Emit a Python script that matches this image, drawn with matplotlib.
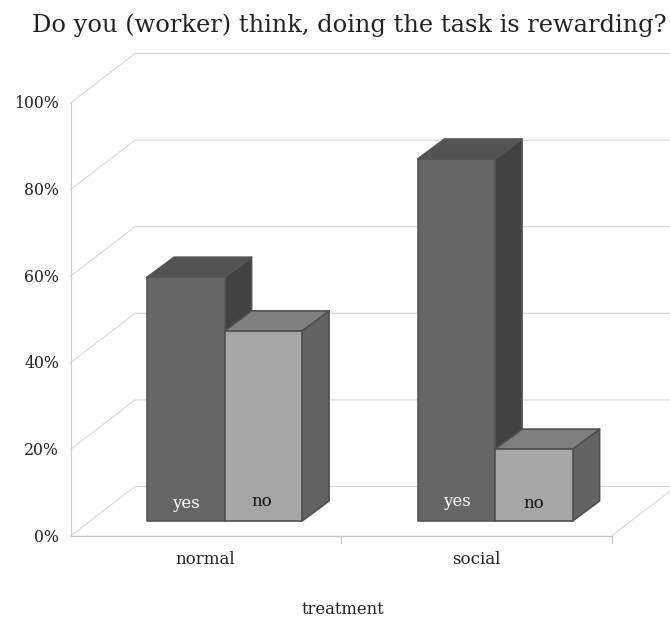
import matplotlib
matplotlib.use("Agg")
import matplotlib.pyplot as plt
from matplotlib.patches import Polygon

title = "Do you (worker) think, doing the task is rewarding?"
categories = ["normal", "social"]
yes_values = [56.3, 83.6]
no_values = [43.9, 16.6]
series_labels = ["yes", "no"]
y_ticks = [0, 20, 40, 60, 80, 100]
x_label = "treatment"

W, H = 670, 621
plt.rcParams['font.family'] = ['DejaVu Serif']
fig = plt.figure(figsize=(W / 100, H / 100), dpi=100)
ax = fig.add_axes([0, 0, 1, 1])
ax.axis("off")

# scales: one category = 270.5 px, 1 % = 4.33 px
x0_px, y0_px, cat_px, pct_px = 70.5, 536.0, 270.5, 4.33
ax.set_xlim(-x0_px / cat_px, (W - x0_px) / cat_px)
ax.set_ylim((y0_px - H) / pct_px, y0_px / pct_px)


def px(x):
    return (x - x0_px) / cat_px


def py(y):
    return (y0_px - y) / pct_px


DX, DY = 64.5 / cat_px, 49.5 / pct_px       # wall depth
BX, BY = 19.5 / cat_px, 15.0 / pct_px       # bar front offset
CX, CY = 27.0 / cat_px, 20.0 / pct_px       # bar depth
BW = 77.5 / cat_px
CENTER = [0.5696, 1.5696]
GRID = "#d6d6d6"
lw_grid = 0.8

# walls
for t in y_ticks:
    ax.plot([0, DX, 3], [t, t + DY, t + DY], color=GRID, lw=lw_grid, zorder=1)
    ax.text(-11.5 / cat_px, t - 1 / pct_px, f"{t}%", ha="right", va="center", fontsize=11.3,
            color="#222222")
ax.plot([0, 0], [0, 100], color="#cccccc", lw=lw_grid, zorder=1)
ax.plot([0, 2], [0, 0], color="#c4c4c4", lw=1.0, zorder=1)
ax.plot([2, 2 + DX], [0, DY], color=GRID, lw=lw_grid, zorder=1)
for k in [1, 2]:
    ax.plot([k, k], [0, -7 / pct_px], color="#c4c4c4", lw=lw_grid, zorder=1)


def box(xl, v, front, top, side, edge):
    xr = xl + BW
    b = BY
    t = BY + v
    kw = dict(ec=edge, lw=1.2, joinstyle="round", zorder=3)
    ax.add_patch(Polygon([(xr, b), (xr + CX, b + CY), (xr + CX, t + CY), (xr, t)], fc=side, **kw))
    ax.add_patch(Polygon([(xl, t), (xl + CX, t + CY), (xr + CX, t + CY), (xr, t)], fc=top, **kw))
    ax.add_patch(Polygon([(xl, b), (xl, t), (xr, t), (xr, b)], fc=front, **kw))


yes_label_px = [(186, 503), (457, 502)]
no_label_px = [(262, 502), (534, 504)]
cat_label_px = [(205, 559), (476, 559)]
for i, c in enumerate(CENTER):
    left = c - BW
    box(left, yes_values[i], "#666666", "#535353", "#424242", "#555555")
    box(c, no_values[i], "#a6a6a6", "#808080", "#636363", "#4f4f4f")
    ax.text(px(yes_label_px[i][0]), py(yes_label_px[i][1]), series_labels[0], ha="center",
            va="center", fontsize=12, color="white", zorder=5)
    ax.text(px(no_label_px[i][0]), py(no_label_px[i][1]), series_labels[1], ha="center",
            va="center", fontsize=12, color="#111111", zorder=5)
    ax.text(px(cat_label_px[i][0]), py(cat_label_px[i][1]), categories[i], ha="center",
            va="center", fontsize=12, color="#222222")

ax.text(px(343), py(609), x_label, ha="center", va="center", fontsize=11.8, color="#222222")
ax.text(px(349), py(25), title, ha="center", va="center", fontsize=17.4, color="#222222")

fig.savefig("out.png", dpi=100, facecolor="white")
